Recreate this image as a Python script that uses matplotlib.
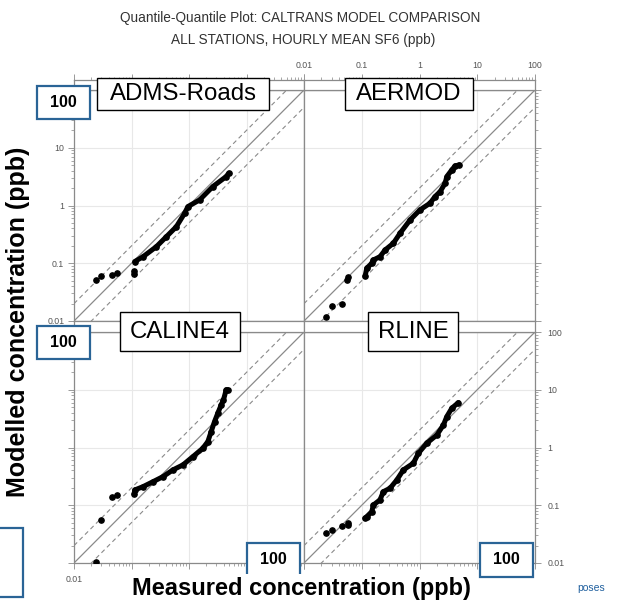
import matplotlib
matplotlib.use('Agg')
import matplotlib.pyplot as plt
from matplotlib.patches import Rectangle
from matplotlib.ticker import LogLocator, NullFormatter, FixedLocator, FixedFormatter

plt.rcParams['font.family'] = ['Liberation Sans', 'DejaVu Sans']

W, H = 617, 600

# ---------------- data ----------------
models = ['ADMS-Roads', 'AERMOD', 'CALINE4', 'RLINE']

adms_obs = [0.024, 0.030, 0.045, 0.056, 0.111, 0.111, 0.114, 0.159, 0.271, 0.405, 0.603, 0.84, 0.957, 1.53, 2.6, 4.43, 4.92]
adms_mod = [0.051, 0.059, 0.063, 0.067, 0.074, 0.065, 0.107, 0.130, 0.194, 0.289, 0.430, 0.736, 0.957, 1.25, 2.13, 3.17, 3.63]

aermod_obs = [0.024, 0.031, 0.045, 0.057, 0.055, 0.114, 0.122, 0.149, 0.159, 0.207, 0.254, 0.353, 0.461, 0.687, 1.02, 1.53, 1.86, 2.28, 2.78, 2.97, 3.63, 4.14, 4.92]
aermod_mod = [0.0116, 0.0184, 0.0195, 0.057, 0.052, 0.059, 0.082, 0.100, 0.114, 0.130, 0.170, 0.222, 0.331, 0.562, 0.84, 1.10, 1.43, 1.74, 2.43, 3.17, 4.14, 4.85, 5.06]

caline_obs = [0.024, 0.030, 0.045, 0.056, 0.111, 0.114, 0.159, 0.237, 0.353, 0.526, 0.783, 1.17, 1.74, 2.13, 2.43, 2.78, 3.17, 3.63, 3.98, 4.43, 4.7]
caline_mod = [0.0105, 0.0556, 0.138, 0.151, 0.157, 0.184, 0.21, 0.256, 0.313, 0.41, 0.499, 0.695, 0.97, 1.27, 1.89, 2.81, 3.93, 5.47, 6.68, 9.96, 10.0]

rline_obs = [0.024, 0.031, 0.045, 0.057, 0.057, 0.114, 0.122, 0.149, 0.159, 0.207, 0.237, 0.309, 0.405, 0.526, 0.783, 0.957, 1.34, 2.0, 2.6, 2.97, 3.63, 4.72]
rline_mod = [0.0327, 0.0373, 0.0438, 0.0488, 0.0456, 0.0596, 0.0634, 0.0774, 0.101, 0.124, 0.172, 0.197, 0.274, 0.41, 0.534, 0.797, 1.19, 1.65, 2.46, 3.43, 4.8, 6.0]

curve_start = [6, 5, 4, 5]

tick_values = [0.01, 0.1, 1, 10, 100]
tick_labels = ['0.01', '0.1', '1', '10', '100']
bottom_tick_labels = ['0.01', '', '', '', '']  # others hidden under the axis title in the reference
lims = [0.01, 100]

title_lines = ['Quantile-Quantile Plot: CALTRANS MODEL COMPARISON',
               'ALL STATIONS, HOURLY MEAN SF6 (ppb)']
ylabel_text = 'Modelled concentration (ppb)'
xlabel_text = 'Measured concentration (ppb)'

# ---------------- layout ----------------
fig = plt.figure(figsize=(W / 100, H / 100), dpi=100)
fig.patch.set_facecolor('white')

GRAY = '#8a8a8a'
TICKC = '#999999'
LABC = '#555555'


def add_ax(x0, y0, x1, y1):
    return fig.add_axes([x0 / W, 1 - y1 / H, (x1 - x0) / W, (y1 - y0) / H])


def setup_log_axis(axis, labels=tick_labels):
    axis.set_major_locator(FixedLocator(tick_values))
    axis.set_major_formatter(FixedFormatter(labels))
    axis.set_minor_locator(LogLocator(base=10, subs=range(2, 10)))
    axis.set_minor_formatter(NullFormatter())


panels = [(74, 90, 304, 321), (304, 90, 535, 321), (74, 332, 304, 563), (304, 332, 535, 563)]
strips = [(74, 80, 304, 90), (304, 80, 535, 90), (74, 321, 304, 332), (304, 321, 535, 332)]
data = [(adms_obs, adms_mod), (aermod_obs, aermod_mod), (caline_obs, caline_mod), (rline_obs, rline_mod)]

# tick side flags: (left, left_lab, right, right_lab, bottom, bottom_lab)
flags = [
    (True, True, False, False, False, False),
    (False, False, True, False, False, False),
    (True, False, False, False, True, True),
    (False, False, True, True, True, False),
]

for i, rect in enumerate(panels):
    ax = add_ax(*rect)
    ax.set_xscale('log')
    ax.set_yscale('log')
    ax.set_xlim(lims)
    ax.set_ylim(lims)
    setup_log_axis(ax.xaxis, bottom_tick_labels if i == 2 else tick_labels)
    setup_log_axis(ax.yaxis)
    ax.grid(True, which='major', color='#e8e8e8', lw=0.8)
    ax.set_axisbelow(True)
    for s in ax.spines.values():
        s.set_color(GRAY)
        s.set_linewidth(0.9)
    l, ll, r, rl, b, bl = flags[i]
    ax.tick_params(which='both', direction='out', color=TICKC, labelcolor=LABC,
                   labelsize=6.3, left=l, labelleft=ll, right=r, labelright=rl,
                   bottom=b, labelbottom=bl, top=False, labeltop=False, pad=2.5)
    ax.tick_params(axis='y', which='major', pad=3, labelright=rl)
    if rl:
        ax.tick_params(axis='y', pad=5)
    if bl:
        ax.tick_params(axis='x', pad=5)
    ax.tick_params(which='major', length=4, width=0.7)
    ax.tick_params(which='minor', length=2.5, width=0.6)
    # reference lines: 1:1 and factor of 2
    ax.plot(lims, lims, color=GRAY, lw=0.9, zorder=2)
    ax.plot(lims, [v * 2 for v in lims], color=GRAY, lw=0.8, ls=(0, (4, 3)), zorder=2)
    ax.plot(lims, [v / 2 for v in lims], color=GRAY, lw=0.8, ls=(0, (4, 3)), zorder=2)
    xo, ym = data[i]
    k = curve_start[i]
    ax.plot(xo[k:], ym[k:], '-', color='black', lw=3.6, solid_capstyle='round', zorder=3)
    ax.plot(xo, ym, 'o', color='black', ms=3.8, mec='black', zorder=4, clip_on=True)

# strips
for i, rect in enumerate(strips):
    sx = add_ax(*rect)
    sx.set_xscale('log')
    sx.set_xlim(lims)
    setup_log_axis(sx.xaxis)
    sx.set_yticks([])
    sx.set_facecolor('white')
    for s in sx.spines.values():
        s.set_color(GRAY)
        s.set_linewidth(0.9)
    top_row = i < 2
    sx.tick_params(which='both', direction='out', color=TICKC, labelcolor=LABC,
                   labelsize=6.3, bottom=False, labelbottom=False,
                   top=top_row, labeltop=(i == 1), pad=3)
    sx.tick_params(which='major', length=4, width=0.7)
    sx.tick_params(which='minor', length=2.5, width=0.6)

# titles
fig.text(300 / W, 1 - 18 / H, title_lines[0], ha='center', va='center', fontsize=9.8, color='#333333')
fig.text(303 / W, 1 - 40 / H, title_lines[1], ha='center', va='center', fontsize=9.8, color='#333333')

# overlay boxes (slide annotations)
def box(x0, y0, x1, y1, ec, lw):
    fig.patches.append(Rectangle((x0 / W, 1 - y1 / H), (x1 - x0) / W, (y1 - y0) / H,
                                 transform=fig.transFigure, facecolor='white',
                                 edgecolor=ec, lw=lw, zorder=10))

BLUE = '#2a6496'
name_boxes = [(97, 78, 269, 110), (345, 78, 473, 110), (120, 312, 240, 351), (368, 312, 458, 351)]
for name, (x0, y0, x1, y1) in zip(models, name_boxes):
    box(x0, y0, x1, y1, 'black', 1.0)
    fig.text((x0 + x1) / 2 / W, 1 - (y0 + y1) / 2 / H, name, ha='center', va='center',
             fontsize=17.3, color='black', zorder=11)

hundred_boxes = [(37, 86, 90, 119), (37, 326, 90, 359), (247, 543, 300, 577), (480, 543, 533, 577)]
for (x0, y0, x1, y1) in hundred_boxes:
    box(x0, y0, x1, y1, BLUE, 1.6)
    fig.text((x0 + x1) / 2 / W, 1 - (y0 + y1) / 2 / H, '100', ha='center', va='center',
             fontsize=11.5, fontweight='bold', color='black', zorder=11)

box(-5, 528, 23, 597, BLUE, 1.6)

fig.text(18 / W, 1 - 322 / H, ylabel_text, rotation=90, ha='center', va='center',
         fontsize=18, fontweight='bold', color='black', zorder=11,
         bbox=dict(facecolor='white', edgecolor='none', pad=0.5))
fig.text(301 / W, 1 - 588 / H, xlabel_text, ha='center', va='center',
         fontsize=17, fontweight='bold', color='black', zorder=11,
         bbox=dict(facecolor='white', edgecolor='none', pad=2))
fig.text(591 / W, 1 - 588 / H, 'poses', ha='center', va='center', fontsize=7.5, color='#1f5f9e')

fig.savefig('out.png', dpi=100, facecolor='white')
